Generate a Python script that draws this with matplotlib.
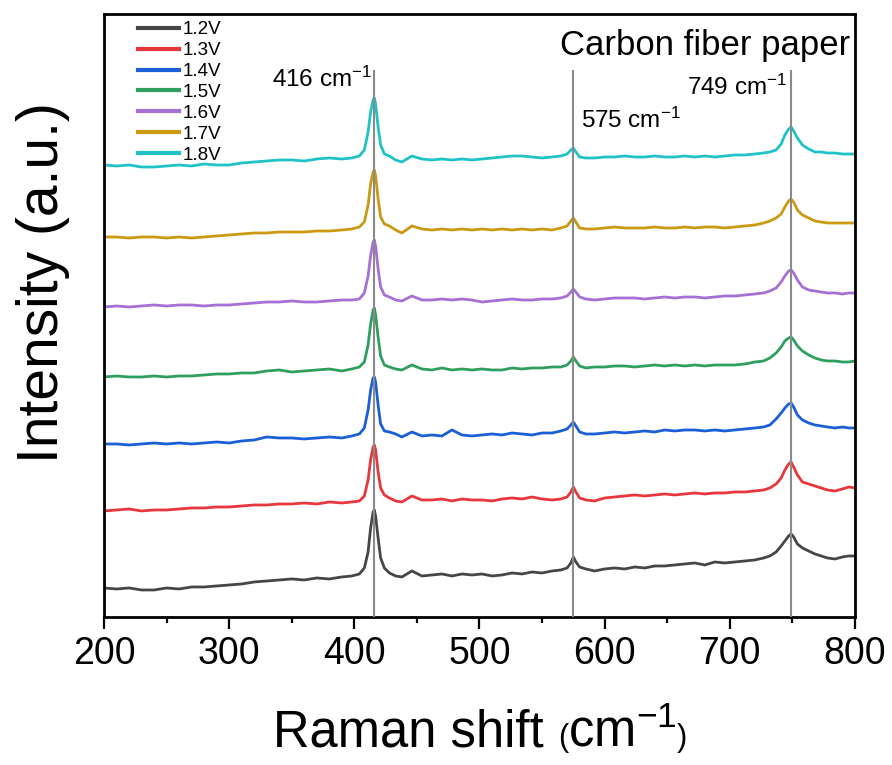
import matplotlib
matplotlib.use('Agg')
import matplotlib.pyplot as plt
from matplotlib.offsetbox import TextArea, HPacker, AnnotationBbox

plt.rcParams['font.family'] = ['Liberation Sans', 'DejaVu Sans']
plt.rcParams['mathtext.fontset'] = 'custom'
plt.rcParams['mathtext.rm'] = 'Liberation Sans'
plt.rcParams['mathtext.it'] = 'Liberation Sans:italic'
plt.rcParams['mathtext.bf'] = 'Liberation Sans:bold'

# raman shift grid (cm-1)
shift = [200, 210, 220, 230, 240, 250, 260, 270, 280, 290,
         300, 310, 320, 330, 340, 350, 360, 370, 380, 390,
         398, 404, 408, 411, 413, 415, 416, 417, 419, 421,
         424, 428, 433, 438, 446, 454, 462, 470, 478, 486,
         494, 502, 510, 518, 526, 534, 542, 550, 558, 565,
         570, 573, 575, 577, 580, 585, 592, 600, 608, 616,
         624, 632, 640, 648, 656, 664, 672, 680, 688, 696,
         704, 712, 720, 727, 732, 737, 741, 744, 747, 749,
         751, 754, 758, 763, 768, 773, 778, 784, 790, 795,
         800]

# stacked intensities (a.u.), offsets included as in the figure
v12 = [32, 31, 32, 30, 30, 32, 31, 33, 33, 34,
       35, 36, 38, 39, 40, 41, 40, 42, 41, 43,
       44, 46, 52, 68, 92, 108, 110, 104, 82, 62,
       52, 47, 44, 43, 49, 44, 45, 46, 44, 46,
       45, 46, 44, 45, 47, 46, 48, 47, 49, 50,
       52, 57, 63, 58, 53, 51, 49, 51, 52, 51,
       53, 52, 54, 54, 55, 56, 57, 55, 58, 57,
       58, 59, 60, 62, 64, 68, 74, 79, 84, 86,
       83, 76, 72, 69, 66, 64, 62, 61, 63, 64,
       64]
v13 = [109, 110, 111, 109, 110, 110, 111, 112, 112, 113,
       113, 114, 115, 115, 116, 116, 117, 116, 118, 117,
       118, 119, 124, 140, 160, 173, 175, 170, 148, 132,
       125, 122, 119, 118, 124, 120, 120, 121, 119, 121,
       120, 120, 119, 121, 122, 121, 123, 121, 120, 121,
       123, 128, 133, 128, 122, 120, 119, 122, 123, 124,
       125, 124, 125, 126, 125, 126, 127, 126, 127, 127,
       128, 128, 129, 130, 132, 136, 142, 150, 156, 158,
       153, 145, 138, 136, 134, 132, 130, 129, 131, 133,
       132]
v14 = [176, 176, 175, 176, 177, 176, 177, 176, 177, 178,
       177, 179, 180, 183, 182, 182, 181, 182, 183, 182,
       184, 186, 192, 210, 230, 242, 243, 238, 215, 196,
       189, 188, 186, 183, 188, 184, 185, 184, 190, 185,
       184, 185, 186, 185, 187, 186, 185, 187, 187, 189,
       191, 195, 198, 194, 188, 186, 186, 187, 188, 187,
       188, 189, 188, 190, 189, 190, 190, 189, 190, 189,
       190, 191, 192, 193, 195, 201, 207, 212, 216, 217,
       213, 205, 200, 197, 195, 194, 193, 192, 193, 192,
       192]
v15 = [243, 244, 243, 243, 244, 243, 244, 244, 245, 246,
       246, 247, 247, 249, 250, 248, 249, 250, 251, 249,
       251, 253, 258, 275, 296, 310, 312, 305, 283, 264,
       255, 253, 251, 250, 255, 251, 250, 252, 250, 251,
       250, 251, 250, 250, 252, 251, 252, 252, 253, 253,
       255, 259, 263, 259, 254, 252, 253, 253, 254, 254,
       253, 254, 255, 254, 255, 254, 255, 254, 255, 255,
       255, 256, 258, 259, 262, 267, 273, 279, 282, 283,
       280, 274, 269, 265, 262, 260, 259, 259, 258, 258,
       259]
v16 = [313, 314, 313, 314, 315, 314, 315, 315, 314, 315,
       315, 316, 317, 318, 318, 319, 318, 318, 319, 320,
       320, 321, 327, 344, 364, 378, 380, 374, 351, 333,
       325, 323, 320, 319, 324, 320, 320, 321, 320, 321,
       320, 318, 319, 320, 321, 320, 320, 321, 321, 322,
       324, 328, 331, 328, 323, 321, 320, 321, 322, 322,
       322, 321, 322, 323, 322, 323, 323, 322, 323, 324,
       324, 325, 326, 327, 329, 332, 338, 344, 349, 350,
       347, 340, 333, 330, 329, 328, 327, 327, 326, 327,
       327]
v17 = [383, 383, 382, 383, 383, 382, 383, 382, 383, 384,
       385, 386, 387, 387, 388, 388, 388, 389, 389, 390,
       391, 393, 398, 415, 436, 448, 450, 444, 421, 403,
       396, 394, 390, 387, 394, 391, 390, 391, 390, 391,
       390, 391, 390, 391, 390, 391, 390, 391, 390, 392,
       394, 399, 402, 398, 392, 391, 391, 392, 393, 392,
       392, 392, 393, 392, 392, 393, 392, 393, 393, 392,
       393, 394, 395, 397, 399, 402, 406, 413, 419, 421,
       418, 410, 405, 402, 399, 398, 397, 397, 397, 397,
       397]
v18 = [455, 454, 455, 453, 453, 454, 455, 454, 456, 455,
       455, 457, 458, 459, 460, 460, 459, 461, 462, 461,
       462, 464, 470, 488, 508, 520, 522, 516, 493, 475,
       466, 464, 460, 458, 464, 461, 460, 461, 460, 461,
       460, 461, 462, 463, 464, 464, 463, 462, 463, 464,
       466, 470, 472, 468, 463, 462, 462, 463, 463, 464,
       463, 463, 464, 463, 463, 464, 463, 464, 463, 464,
       465, 465, 466, 467, 468, 470, 476, 485, 491, 493,
       489, 482, 475, 471, 468, 468, 467, 467, 466, 466,
       466]

labels = ['1.2V', '1.3V', '1.4V', '1.5V', '1.6V', '1.7V', '1.8V']
colors = ['#464646', '#e8373c', '#1b5fd6', '#2f9f5f', '#a770d6', '#cc9912', '#1fc3c6']
peaks = [416, 575, 749]

fig = plt.figure(figsize=(8.92, 7.65), dpi=100)
ax = fig.add_axes([0.1166, 0.1935, 0.8419, 0.7882])

for ys, lab, c in zip([v12, v13, v14, v15, v16, v17, v18], labels, colors):
    ax.plot(shift, ys, color=c, lw=2.0, label=lab)

ax.vlines(peaks, 3, 550, color='#8a8a8a', lw=1.5, zorder=3)

ax.set_xlim(200, 800)
ax.set_ylim(3, 606)
ax.set_xticks([200, 300, 400, 500, 600, 700, 800])
ax.set_xticks([250, 350, 450, 550, 650, 750], minor=True)
ax.set_yticks([])
ax.tick_params(axis='x', which='major', direction='out', length=8.5, width=1.6,
               labelsize=27, pad=5)
ax.tick_params(axis='x', which='minor', direction='out', length=4.5, width=1.6)
for sp in ax.spines.values():
    sp.set_linewidth(2)

ax.text(414, 533, '416 cm$^{-1}$', fontsize=17.5, ha='right', va='baseline')
ax.text(581, 492, '575 cm$^{-1}$', fontsize=17.5, ha='left', va='baseline')
ax.text(746, 525, '749 cm$^{-1}$', fontsize=17.5, ha='right', va='baseline')
ax.text(796, 565, 'Carbon fiber paper', fontsize=25, ha='right', va='baseline')

leg = ax.legend(loc='upper left', bbox_to_anchor=(0.045, 0.988), frameon=False,
                fontsize=13.5, handlelength=2.2, handletextpad=0.2, labelspacing=0.2,
                borderpad=0, borderaxespad=0)
for h in leg.legend_handles:
    h.set_linewidth(3)

# x label: small parentheses around the unit, on the baseline
big = dict(fontsize=36.5)
small = dict(fontsize=22)
parts = [TextArea('Raman shift ', textprops=big),
         TextArea('(', textprops=small),
         TextArea('cm$^{-1}$', textprops=big),
         TextArea(')', textprops=small)]
xlab = HPacker(children=parts, align='baseline', pad=0, sep=0)
ab = AnnotationBbox(xlab, (480 / 892, 0.01), xycoords='figure fraction',
                    box_alignment=(0.5, 0.0), frameon=False, pad=0,
                    annotation_clip=False)
ax.add_artist(ab)

fig.text(43 / 892, 1 - 283 / 765, 'Intensity (a.u.)', fontsize=41, rotation=90,
         ha='center', va='center')

fig.savefig('out.png', dpi=100)
